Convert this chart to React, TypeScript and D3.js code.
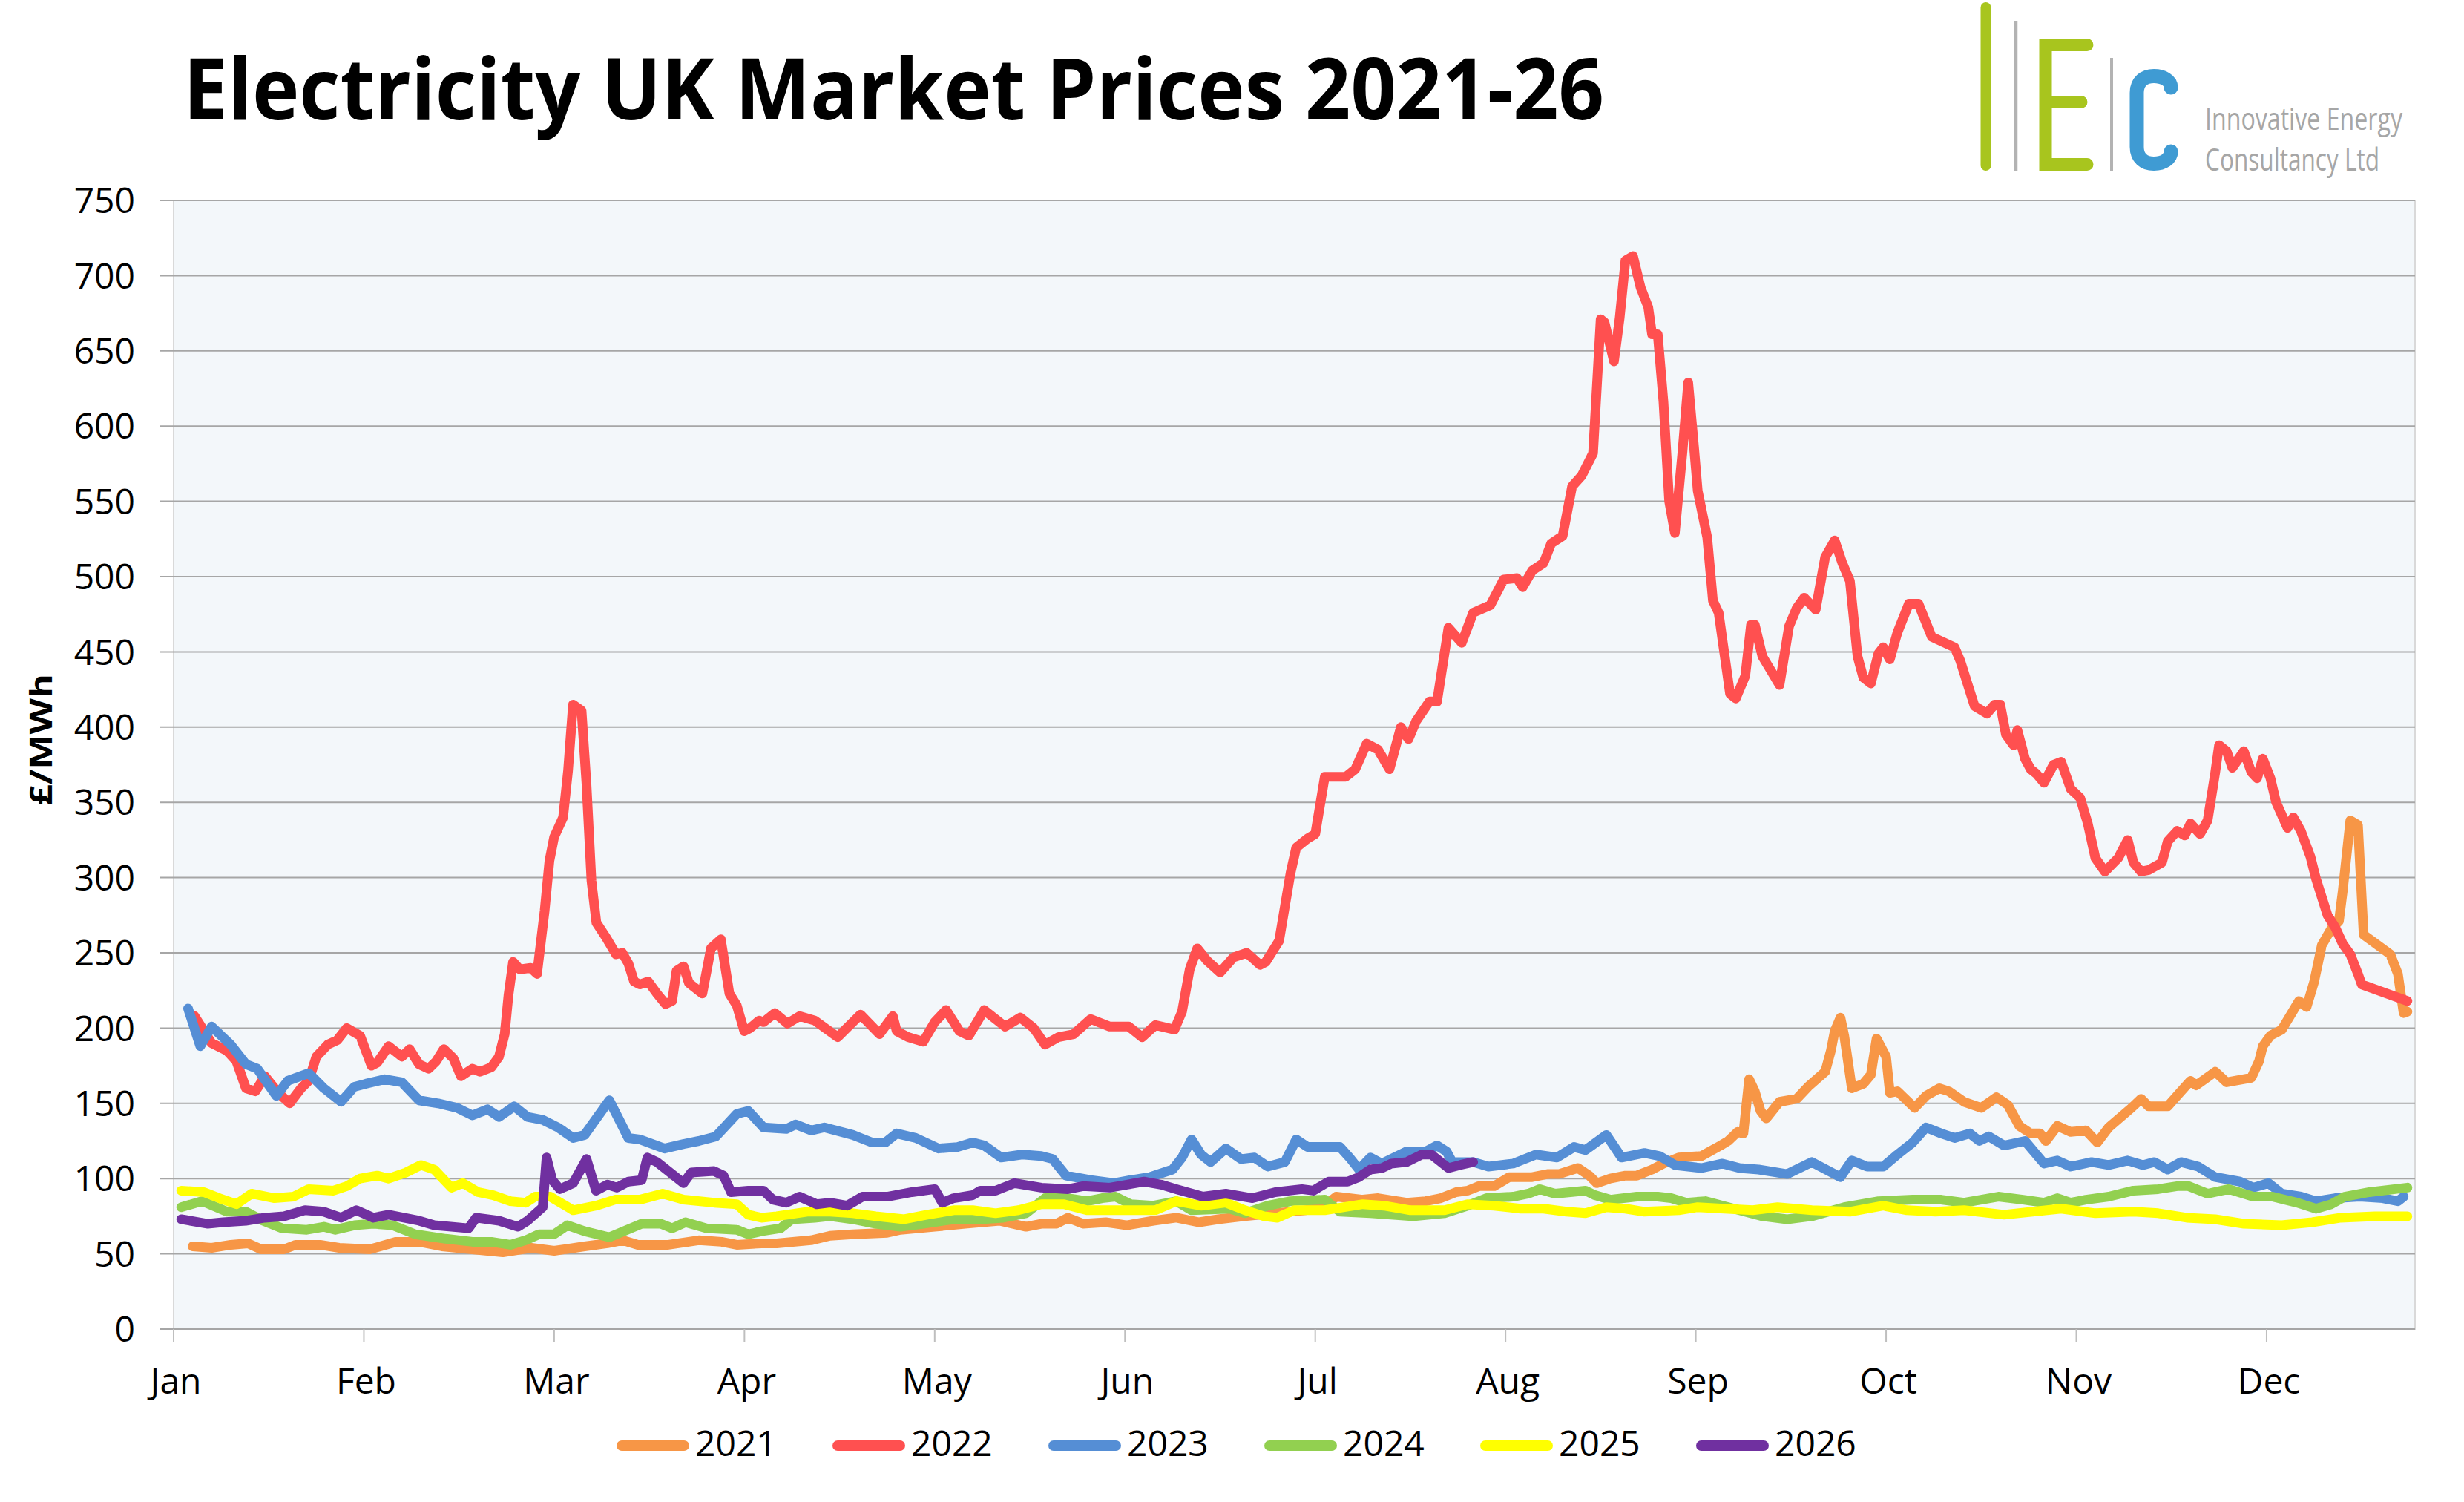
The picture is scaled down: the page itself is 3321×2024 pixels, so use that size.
import React, { useEffect, useRef } from 'react';
import * as d3 from 'd3';

// x is a month position: 0 = start of Jan, 1 = start of Feb, ...
type Pt = [number, number];

const MONTHS = ['Jan', 'Feb', 'Mar', 'Apr', 'May', 'Jun', 'Jul', 'Aug', 'Sep', 'Oct', 'Nov', 'Dec'];
const Y_TICKS = [0, 50, 100, 150, 200, 250, 300, 350, 400, 450, 500, 550, 600, 650, 700, 750];

const Y2021: Pt[] = [
  [0.1, 55], [0.2, 54], [0.3, 56], [0.39, 57], [0.46, 53], [0.58, 53], [0.64, 56], [0.77, 56], [0.87, 54],
  [1.03, 53], [1.17, 58], [1.29, 58], [1.41, 55], [1.57, 53], [1.73, 51], [1.88, 54], [2.0, 52], [2.16, 55],
  [2.28, 57], [2.36, 59], [2.44, 56], [2.6, 56], [2.76, 59], [2.88, 58], [2.96, 56], [3.09, 57], [3.17, 57],
  [3.35, 59], [3.45, 62], [3.57, 63], [3.75, 64], [3.82, 66], [4.0, 68], [4.16, 70], [4.34, 72], [4.48, 68],
  [4.56, 70], [4.64, 70], [4.7, 74], [4.78, 70], [4.9, 71], [5.01, 69], [5.15, 72], [5.27, 74], [5.39, 71],
  [5.49, 73], [5.63, 75], [5.79, 77], [5.95, 79], [6.05, 82], [6.11, 88], [6.25, 86], [6.33, 87], [6.48, 84],
  [6.58, 85], [6.66, 87], [6.74, 91], [6.8, 92], [6.86, 95], [6.94, 95], [7.02, 101], [7.14, 101], [7.22, 103],
  [7.28, 103], [7.38, 107], [7.44, 102], [7.48, 97], [7.55, 100], [7.63, 102], [7.69, 102], [7.77, 106],
  [7.83, 110], [7.91, 114], [8.03, 115], [8.13, 122], [8.17, 125], [8.22, 131], [8.25, 130], [8.28, 166],
  [8.31, 158], [8.34, 145], [8.37, 140], [8.44, 151], [8.53, 153], [8.59, 161], [8.68, 171], [8.71, 185],
  [8.73, 198], [8.76, 207], [8.78, 195], [8.82, 160], [8.88, 163], [8.92, 169], [8.95, 193], [9.0, 181],
  [9.02, 157], [9.06, 158], [9.15, 147], [9.21, 155], [9.28, 160], [9.33, 158], [9.41, 151], [9.5, 147],
  [9.58, 154], [9.64, 149], [9.7, 135], [9.76, 130], [9.81, 130], [9.84, 125], [9.9, 135], [9.97, 131],
  [10.05, 132], [10.11, 124], [10.17, 134], [10.29, 147], [10.34, 153], [10.38, 148], [10.48, 148],
  [10.55, 158], [10.6, 165], [10.63, 162], [10.73, 171], [10.79, 164], [10.92, 167], [10.96, 178],
  [10.98, 188], [11.02, 195], [11.08, 199], [11.17, 218], [11.21, 214], [11.25, 231], [11.29, 255],
  [11.34, 266], [11.38, 271], [11.4, 291], [11.44, 338], [11.48, 335], [11.51, 262], [11.65, 249],
  [11.69, 236], [11.72, 210], [11.74, 211],
];

const Y2022: Pt[] = [
  [0.11, 208], [0.2, 190], [0.28, 185], [0.33, 178], [0.38, 160], [0.43, 158], [0.48, 168], [0.55, 157],
  [0.61, 150], [0.67, 160], [0.71, 165], [0.75, 181], [0.81, 189], [0.86, 192], [0.91, 200], [0.98, 195],
  [1.04, 175], [1.07, 177], [1.13, 188], [1.2, 181], [1.24, 186], [1.29, 176], [1.34, 173], [1.38, 178],
  [1.42, 186], [1.47, 180], [1.51, 168], [1.57, 173], [1.61, 171], [1.67, 174], [1.71, 181], [1.74, 196],
  [1.76, 222], [1.784, 244], [1.82, 239], [1.877, 240], [1.91, 236], [1.95, 278], [1.975, 311], [2.0, 327],
  [2.047, 340], [2.073, 371], [2.099, 415], [2.144, 411], [2.17, 362], [2.196, 298], [2.222, 270],
  [2.274, 260], [2.325, 249], [2.358, 250], [2.39, 243], [2.42, 231], [2.45, 229], [2.494, 231], [2.54, 223],
  [2.585, 216], [2.62, 218], [2.643, 238], [2.68, 241], [2.708, 230], [2.779, 223], [2.824, 253],
  [2.876, 259], [2.921, 223], [2.96, 215], [2.999, 198], [3.03, 200], [3.077, 205], [3.1, 204], [3.16, 210],
  [3.226, 203], [3.29, 208], [3.37, 205], [3.49, 194], [3.61, 209], [3.71, 196], [3.78, 208], [3.8, 198],
  [3.86, 194], [3.94, 191], [4.0, 204], [4.06, 212], [4.13, 198], [4.18, 195], [4.26, 212], [4.37, 201],
  [4.45, 207], [4.52, 200], [4.58, 189], [4.65, 194], [4.73, 196], [4.82, 206], [4.92, 201], [5.02, 201],
  [5.09, 194], [5.16, 202], [5.26, 199], [5.3, 211], [5.34, 239], [5.38, 253], [5.43, 245], [5.5, 237],
  [5.57, 247], [5.64, 250], [5.71, 242], [5.74, 244], [5.81, 258], [5.87, 303], [5.9, 320], [5.96, 326],
  [6.0, 329], [6.05, 367], [6.16, 367], [6.21, 372], [6.27, 389], [6.33, 385], [6.39, 372], [6.45, 400],
  [6.49, 392], [6.53, 404], [6.6, 417], [6.64, 417], [6.7, 466], [6.77, 456], [6.83, 476], [6.92, 481],
  [6.99, 498], [7.06, 499], [7.09, 493], [7.14, 504], [7.2, 509], [7.24, 522], [7.3, 527], [7.35, 560],
  [7.4, 567], [7.46, 582], [7.5, 671], [7.52, 669], [7.57, 643], [7.6, 672], [7.63, 710], [7.67, 713],
  [7.71, 692], [7.75, 679], [7.77, 661], [7.8, 661], [7.83, 616], [7.86, 550], [7.89, 529], [7.93, 583],
  [7.96, 629], [7.99, 587], [8.01, 557], [8.06, 526], [8.09, 484], [8.12, 476], [8.18, 422], [8.21, 419],
  [8.26, 434], [8.29, 468], [8.31, 468], [8.35, 447], [8.44, 428], [8.49, 467], [8.53, 479], [8.57, 486],
  [8.63, 478], [8.68, 513], [8.73, 524], [8.77, 509], [8.81, 497], [8.85, 447], [8.88, 433], [8.92, 429],
  [8.96, 449], [8.985, 453], [9.02, 445], [9.06, 463], [9.12, 482], [9.17, 482], [9.24, 460], [9.36, 453],
  [9.39, 444], [9.44, 424], [9.465, 414], [9.53, 409], [9.57, 415], [9.6, 415], [9.63, 395], [9.67, 388],
  [9.69, 398], [9.73, 379], [9.76, 372], [9.79, 369], [9.83, 363], [9.88, 375], [9.92, 377], [9.97, 359],
  [10.02, 353], [10.06, 336], [10.1, 313], [10.15, 304], [10.22, 313], [10.27, 325], [10.3, 310],
  [10.34, 304], [10.38, 305], [10.45, 310], [10.48, 324], [10.53, 331], [10.57, 328], [10.6, 336],
  [10.65, 329], [10.69, 338], [10.73, 370], [10.75, 388], [10.79, 384], [10.82, 373], [10.88, 384],
  [10.92, 370], [10.95, 366], [10.98, 379], [11.02, 366], [11.05, 350], [11.11, 333], [11.14, 340],
  [11.18, 331], [11.23, 314], [11.26, 299], [11.32, 275], [11.36, 267], [11.4, 256], [11.44, 249],
  [11.48, 236], [11.5, 229], [11.74, 218],
];

const Y2023: Pt[] = [
  [0.076, 213], [0.14, 188], [0.2, 201], [0.3, 189], [0.38, 176], [0.44, 173], [0.54, 155], [0.6, 165],
  [0.71, 170], [0.79, 160], [0.88, 151], [0.95, 161], [1.01, 163], [1.11, 166], [1.2, 164], [1.29, 152],
  [1.39, 150], [1.49, 147], [1.57, 142], [1.65, 146], [1.71, 141], [1.79, 148], [1.86, 141], [1.94, 139],
  [2.02, 134], [2.1, 127], [2.16, 129], [2.29, 152], [2.39, 127], [2.45, 126], [2.58, 120], [2.68, 123],
  [2.76, 125], [2.85, 128], [2.96, 143], [3.02, 145], [3.1, 134], [3.22, 133], [3.27, 136], [3.35, 132],
  [3.42, 134], [3.57, 129], [3.67, 124], [3.74, 124], [3.8, 130], [3.9, 127], [4.02, 120], [4.12, 121],
  [4.2, 124], [4.26, 122], [4.35, 114], [4.46, 116], [4.56, 115], [4.62, 113], [4.69, 102], [4.82, 99],
  [4.94, 97], [5.03, 99], [5.13, 101], [5.25, 106], [5.3, 114], [5.35, 126], [5.4, 116], [5.45, 111],
  [5.53, 120], [5.61, 113], [5.68, 114], [5.75, 108], [5.84, 111], [5.9, 126], [5.96, 121], [6.06, 121],
  [6.13, 121], [6.18, 114], [6.23, 106], [6.29, 114], [6.35, 110], [6.48, 118], [6.58, 118], [6.64, 122],
  [6.69, 118], [6.72, 111], [6.83, 111], [6.91, 108], [7.04, 110], [7.16, 116], [7.27, 114], [7.36, 121],
  [7.42, 119], [7.53, 129], [7.61, 114], [7.73, 117], [7.81, 115], [7.89, 109], [8.03, 107], [8.14, 110],
  [8.23, 107], [8.33, 106], [8.48, 103], [8.61, 111], [8.76, 101], [8.82, 112], [8.9, 108], [8.985, 108],
  [9.06, 116], [9.14, 124], [9.21, 134], [9.29, 130], [9.36, 127], [9.44, 130], [9.49, 125], [9.54, 128],
  [9.62, 122], [9.73, 125], [9.83, 110], [9.9, 112], [9.97, 108], [10.08, 111], [10.17, 109], [10.27, 112],
  [10.35, 109], [10.41, 111], [10.48, 106], [10.55, 111], [10.64, 108], [10.73, 101], [10.86, 98],
  [10.93, 94], [11.01, 97], [11.08, 90], [11.18, 88], [11.26, 85], [11.36, 87], [11.49, 88], [11.61, 87],
  [11.69, 85], [11.72, 88],
];

const Y2024: Pt[] = [
  [0.04, 81], [0.15, 85], [0.28, 78], [0.38, 78], [0.47, 72], [0.57, 67], [0.7, 66], [0.79, 68], [0.85, 66],
  [0.95, 69], [1.05, 70], [1.15, 69], [1.27, 63], [1.43, 60], [1.57, 58], [1.67, 58], [1.77, 56], [1.85, 59],
  [1.92, 63], [2.0, 63], [2.07, 69], [2.16, 65], [2.29, 61], [2.46, 70], [2.56, 70], [2.62, 67], [2.69, 71],
  [2.8, 67], [2.96, 66], [3.02, 63], [3.09, 65], [3.19, 67], [3.25, 73], [3.37, 74], [3.45, 75], [3.57, 73],
  [3.69, 70], [3.82, 68], [3.94, 70], [4.1, 73], [4.24, 73], [4.36, 74], [4.48, 77], [4.58, 87], [4.7, 87],
  [4.8, 85], [4.88, 87], [4.95, 88], [5.03, 83], [5.15, 82], [5.27, 85], [5.35, 79], [5.55, 80], [5.63, 77],
  [5.75, 82], [5.87, 85], [6.05, 86], [6.13, 78], [6.29, 77], [6.52, 75], [6.68, 77], [6.8, 82], [6.9, 87],
  [7.04, 88], [7.12, 90], [7.18, 93], [7.26, 90], [7.42, 92], [7.47, 89], [7.55, 86], [7.69, 88], [7.8, 88],
  [7.87, 87], [7.95, 84], [8.05, 85], [8.2, 80], [8.35, 75], [8.48, 73], [8.61, 75], [8.78, 81], [8.96, 85],
  [9.14, 86], [9.29, 86], [9.41, 84], [9.59, 88], [9.72, 86], [9.83, 84], [9.9, 87], [9.97, 84], [10.05, 86],
  [10.17, 88], [10.3, 92], [10.43, 93], [10.53, 95], [10.59, 95], [10.69, 90], [10.8, 93], [10.93, 88],
  [11.03, 88], [11.16, 84], [11.26, 80], [11.34, 83], [11.41, 88], [11.54, 91], [11.74, 94],
];

const Y2025: Pt[] = [
  [0.04, 92], [0.16, 91], [0.24, 87], [0.33, 83], [0.41, 90], [0.53, 87], [0.63, 88], [0.71, 93], [0.84, 92],
  [0.91, 95], [0.98, 100], [1.07, 102], [1.13, 100], [1.22, 104], [1.3, 109], [1.37, 106], [1.46, 94],
  [1.52, 97], [1.6, 91], [1.68, 89], [1.77, 85], [1.85, 84], [1.9, 88], [1.98, 88], [2.1, 79], [2.22, 82],
  [2.32, 86], [2.45, 86], [2.57, 90], [2.68, 86], [2.84, 84], [2.96, 83], [3.02, 76], [3.09, 74], [3.17, 75],
  [3.33, 78], [3.45, 78], [3.57, 77], [3.69, 75], [3.84, 73], [3.96, 76], [4.1, 79], [4.2, 79], [4.32, 77],
  [4.44, 79], [4.56, 83], [4.68, 83], [4.8, 79], [4.92, 79], [5.03, 79], [5.16, 79], [5.27, 85], [5.4, 82],
  [5.53, 84], [5.63, 79], [5.73, 75], [5.8, 74], [5.89, 79], [6.05, 79], [6.25, 83], [6.36, 82], [6.5, 79],
  [6.68, 79], [6.8, 83], [6.94, 82], [7.08, 80], [7.2, 80], [7.32, 78], [7.42, 77], [7.53, 81], [7.63, 80],
  [7.73, 78], [7.91, 79], [8.01, 81], [8.15, 80], [8.3, 79], [8.43, 81], [8.61, 79], [8.81, 78], [8.985, 82],
  [9.11, 79], [9.26, 78], [9.41, 79], [9.62, 76], [9.77, 78], [9.92, 80], [10.1, 77], [10.3, 78], [10.43, 77],
  [10.58, 74], [10.73, 73], [10.88, 70], [11.08, 69], [11.24, 71], [11.39, 74], [11.57, 75], [11.74, 75],
];

const Y2026: Pt[] = [
  [0.04, 73], [0.18, 70], [0.26, 71], [0.38, 72], [0.48, 74], [0.58, 75], [0.69, 79], [0.79, 78], [0.88, 74],
  [0.96, 79], [1.05, 74], [1.13, 76], [1.29, 72], [1.37, 69], [1.55, 67], [1.59, 74], [1.71, 72], [1.81, 68],
  [1.86, 72], [1.94, 81], [1.96, 114], [1.99, 99], [2.03, 93], [2.1, 97], [2.17, 113], [2.22, 92], [2.28, 96],
  [2.33, 94], [2.39, 98], [2.46, 99], [2.49, 114], [2.54, 111], [2.68, 97], [2.72, 104], [2.84, 105],
  [2.89, 102], [2.93, 91], [3.02, 92], [3.1, 92], [3.15, 86], [3.22, 84], [3.29, 88], [3.38, 83], [3.45, 84],
  [3.54, 82], [3.62, 88], [3.75, 88], [3.88, 91], [4.0, 93], [4.04, 84], [4.1, 87], [4.2, 89], [4.24, 92],
  [4.32, 92], [4.42, 97], [4.56, 94], [4.7, 93], [4.78, 95], [4.92, 94], [5.01, 96], [5.1, 98], [5.19, 96],
  [5.27, 93], [5.41, 88], [5.53, 90], [5.67, 87], [5.79, 91], [5.93, 93], [5.99, 92], [6.07, 98], [6.17, 98],
  [6.23, 101], [6.29, 106], [6.35, 107], [6.4, 110], [6.48, 111], [6.56, 116], [6.61, 116], [6.7, 107],
  [6.76, 109], [6.83, 111],
];

const YEARS = ['2021', '2022', '2023', '2024', '2025', '2026'];
const COLORS = ['#F79646', '#FF5050', '#558ED5', '#92D050', '#FFFF00', '#7030A0'];
const SERIES = [Y2021, Y2022, Y2023, Y2024, Y2025, Y2026];

const W = 3321;
const H = 2024;
const FONT = "'Open Sans', 'Noto Sans', sans-serif";

export default function App() {
  const svgRef = useRef<SVGSVGElement>(null);

  useEffect(() => {
    document.body.style.margin = '0';
    if (!svgRef.current) return;
    const svg = d3.select(svgRef.current);
    svg.selectAll('*').remove();

    const plot = { left: 234, right: 3255, top: 270, bottom: 1791 };

    const x = d3.scaleLinear().domain([0, 11.78]).range([plot.left, plot.right]);
    const y = d3.scaleLinear().domain([0, 750]).range([plot.bottom, plot.top]);

    svg.append('rect').attr('width', W).attr('height', H).attr('fill', '#ffffff');

    // plot area
    svg.append('rect')
      .attr('x', plot.left)
      .attr('y', plot.top)
      .attr('width', plot.right - plot.left)
      .attr('height', plot.bottom - plot.top)
      .attr('fill', '#F3F7FA')
      .attr('stroke', '#D9D9D9')
      .attr('stroke-width', 2);

    // horizontal gridlines + y labels
    svg.append('g')
      .selectAll('line')
      .data(Y_TICKS)
      .enter()
      .append('line')
      .attr('x1', plot.left - 18)
      .attr('x2', plot.right)
      .attr('y1', d => y(d))
      .attr('y2', d => y(d))
      .attr('stroke', '#A6A6A6')
      .attr('stroke-width', 2);

    svg.append('g')
      .selectAll('text')
      .data(Y_TICKS)
      .enter()
      .append('text')
      .attr('x', 182)
      .attr('y', d => y(d))
      .attr('dy', '0.36em')
      .attr('text-anchor', 'end')
      .style('font-family', FONT)
      .style('font-size', '48px')
      .attr('fill', '#000')
      .text(d => d);

    // month ticks and labels
    const months = MONTHS.map((m, i) => ({ m, i }));
    svg.append('g')
      .selectAll('line')
      .data(months)
      .enter()
      .append('line')
      .attr('x1', d => x(d.i))
      .attr('x2', d => x(d.i))
      .attr('y1', plot.bottom)
      .attr('y2', plot.bottom + 18)
      .attr('stroke', '#BFBFBF')
      .attr('stroke-width', 2);

    svg.append('g')
      .selectAll('text')
      .data(months)
      .enter()
      .append('text')
      .attr('x', d => x(d.i) + 3)
      .attr('y', 1878)
      .attr('text-anchor', 'middle')
      .style('font-family', FONT)
      .style('font-size', '48px')
      .attr('fill', '#000')
      .text(d => d.m);

    // series
    const line = d3.line<Pt>()
      .x(d => x(d[0]))
      .y(d => y(d[1]))
      .curve(d3.curveLinear);

    SERIES.forEach((data, i) => {
      svg.append('path')
        .datum(data)
        .attr('d', line)
        .attr('fill', 'none')
        .attr('stroke', COLORS[i])
        .attr('stroke-width', 13)
        .attr('stroke-linejoin', 'round')
        .attr('stroke-linecap', 'round');
    });

    // legend
    const legend = svg.append('g');
    YEARS.forEach((yr, i) => {
      const lx = 838 + i * 291;
      legend.append('line')
        .attr('x1', lx)
        .attr('x2', lx + 84)
        .attr('y1', 1948)
        .attr('y2', 1948)
        .attr('stroke', COLORS[i])
        .attr('stroke-width', 14)
        .attr('stroke-linecap', 'round');
      legend.append('text')
        .attr('x', lx + 99)
        .attr('y', 1962)
        .style('font-family', FONT)
        .style('font-size', '48px')
        .attr('fill', '#000')
        .text(yr);
    });

    // y-axis title
    svg.append('text')
      .attr('transform', 'translate(70,997) rotate(-90)')
      .attr('text-anchor', 'middle')
      .style('font-family', FONT)
      .style('font-size', '42px')
      .style('font-weight', 'bold')
      .attr('textLength', 178)
      .attr('lengthAdjust', 'spacingAndGlyphs')
      .text('£/MWh');

    // title
    svg.append('text')
      .attr('x', 247)
      .attr('y', 161)
      .style('font-family', FONT)
      .style('font-size', '115px')
      .style('font-weight', 'bold')
      .attr('textLength', 1915)
      .attr('lengthAdjust', 'spacingAndGlyphs')
      .attr('fill', '#000')
      .text('Electricity UK Market Prices 2021-26');

    // IEC logo
    const logo = svg.append('g');
    logo.append('line')
      .attr('x1', 2676.5).attr('x2', 2676.5).attr('y1', 10).attr('y2', 223)
      .attr('stroke', '#A8C51E').attr('stroke-width', 14).attr('stroke-linecap', 'round');
    logo.append('line')
      .attr('x1', 2717).attr('x2', 2717).attr('y1', 28).attr('y2', 230)
      .attr('stroke', '#B3B3B3').attr('stroke-width', 4.5);
    logo.append('path')
      .attr('d', 'M2813,60.5 L2757,60.5 L2757,221.5 L2813,221.5 M2757,137.5 L2805,137.5')
      .attr('fill', 'none')
      .attr('stroke', '#A8C51E').attr('stroke-width', 17)
      .attr('stroke-linecap', 'round').attr('stroke-linejoin', 'miter');
    logo.append('line')
      .attr('x1', 2846).attr('x2', 2846).attr('y1', 78).attr('y2', 230)
      .attr('stroke', '#B3B3B3').attr('stroke-width', 4);
    logo.append('path')
      .attr('d', 'M2926,118 C2926,108 2915,102.5 2903,102.5 C2890,102.5 2880,110 2880,125 L2880,198 C2880,213 2890,220.5 2903,220.5 C2916,220.5 2926,214 2926,204')
      .attr('fill', 'none')
      .attr('stroke', '#3F9BD3').attr('stroke-width', 19)
      .attr('stroke-linecap', 'round');
    logo.append('text')
      .attr('x', 2972).attr('y', 175)
      .style('font-family', FONT).style('font-size', '42px')
      .attr('textLength', 266).attr('lengthAdjust', 'spacingAndGlyphs')
      .attr('fill', '#A6A6A6')
      .text('Innovative Energy');
    logo.append('text')
      .attr('x', 2972).attr('y', 230)
      .style('font-family', FONT).style('font-size', '42px')
      .attr('textLength', 235).attr('lengthAdjust', 'spacingAndGlyphs')
      .attr('fill', '#A6A6A6')
      .text('Consultancy Ltd');
  }, []);

  return <svg ref={svgRef} width={W} height={H} style={{ display: 'block' }} />;
}
